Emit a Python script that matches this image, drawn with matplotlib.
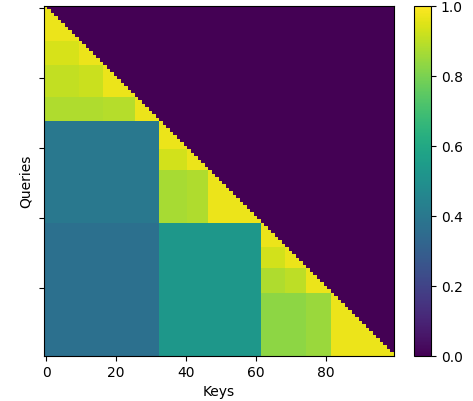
import numpy as np
import matplotlib
matplotlib.use('Agg')
import matplotlib.pyplot as plt

# sentence blocks (start index of each block) and sub-chunks inside them
n_tokens = 100
block_starts = [0, 33, 62]
chunk_starts = [0, 10, 17, 26, 33, 41, 47, 62, 69, 75, 82]

# weight for a query block attending to an earlier block
cross_block = {(1, 0): 0.40, (2, 0): 0.37, (2, 1): 0.53}
# weight inside the same sub-chunk
same_chunk = 0.97
# weight a query chunk gives to earlier chunks of its own block (far, adjacent)
prev_chunk = {1: (0.94, 0.94), 2: (0.91, 0.92), 3: (0.88, 0.89),
              5: (0.93, 0.93), 6: (0.87, 0.88),
              8: (0.92, 0.93), 9: (0.88, 0.90), 10: (0.83, 0.85)}

def which(idx, starts):
    return np.searchsorted(starts, idx, side='right') - 1

att = np.zeros((n_tokens, n_tokens))
for q in range(n_tokens):
    for k in range(q + 1):
        bq, bk = which(q, block_starts), which(k, block_starts)
        if bq != bk:
            att[q, k] = cross_block[(bq, bk)]
        else:
            cq, ck = which(q, chunk_starts), which(k, chunk_starts)
            if cq == ck:
                att[q, k] = same_chunk
            else:
                far, near = prev_chunk[cq]
                att[q, k] = near if cq - ck == 1 else far

fig = plt.figure(figsize=(4.73, 4.01), dpi=100)
ax = fig.add_axes([0.0936, 0.1122, 0.7394, 0.8728])
cax = fig.add_axes([0.8753, 0.1122, 0.036, 0.8728])

im = ax.imshow(att, cmap='viridis', vmin=0, vmax=1, aspect='auto', interpolation='nearest')
ax.set_xticks([0, 20, 40, 60, 80])
ax.set_yticks([0, 20, 40, 60, 80])
ax.set_yticklabels([])
ax.set_xlabel('Keys')
ax.set_ylabel('Queries')
ax.yaxis.set_label_coords(-0.033, 0.5)

fig.colorbar(im, cax=cax)

fig.savefig('out.png', dpi=100)
